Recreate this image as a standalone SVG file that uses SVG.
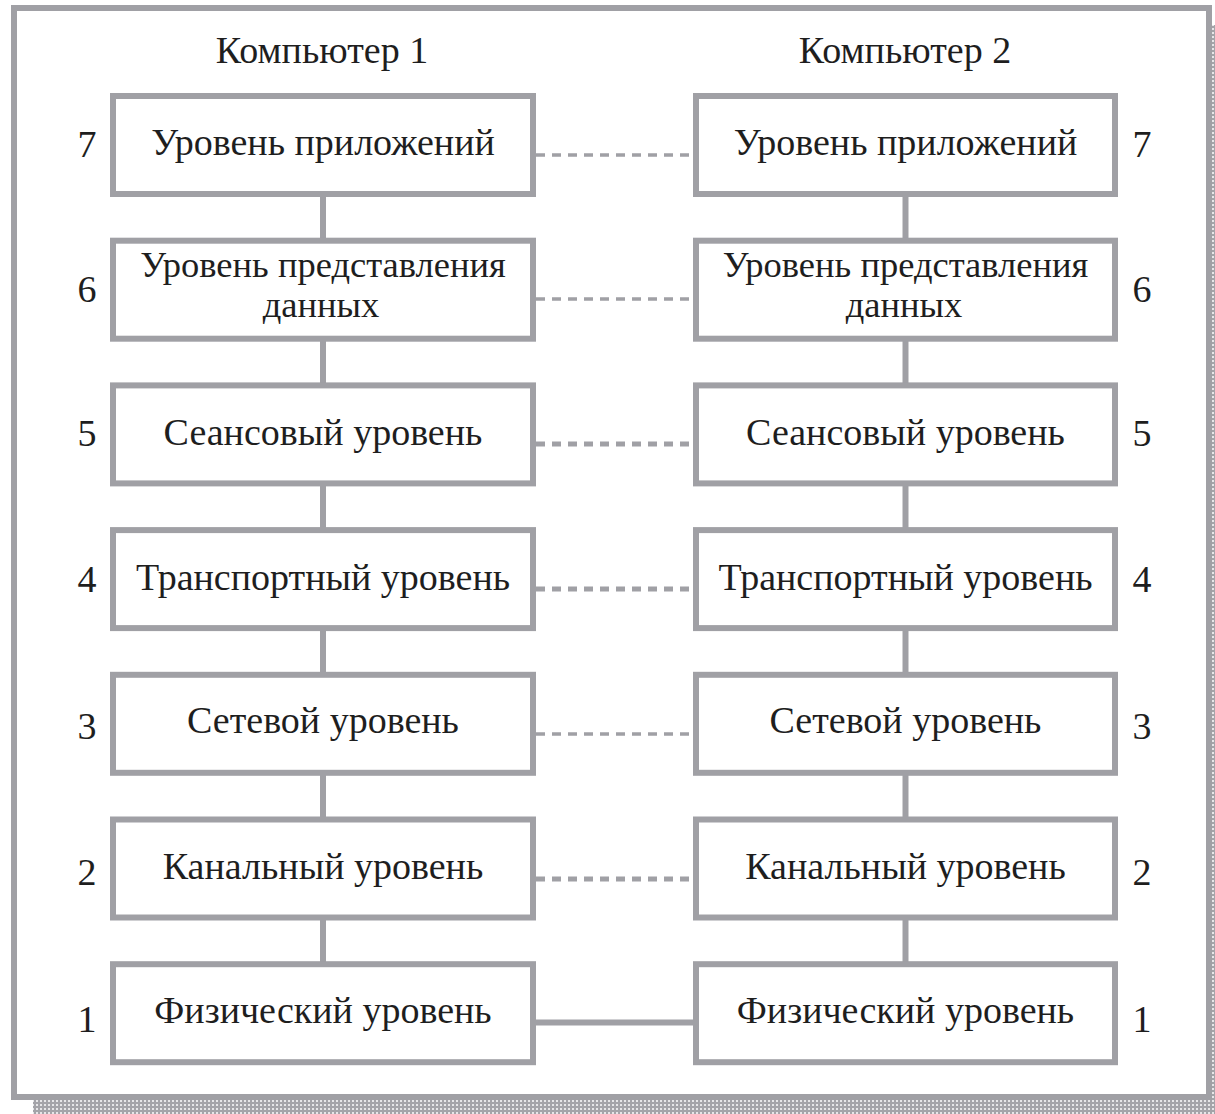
<svg xmlns="http://www.w3.org/2000/svg" width="1215" height="1114" viewBox="0 0 1215 1114">
<defs>
<pattern id="dots" width="4" height="4" patternUnits="userSpaceOnUse">
<rect width="4" height="4" fill="#a4a4a9"/>
<rect x="0" y="0" width="2" height="2" fill="#e6e6e8"/>
</pattern>
<style>
.frame{fill:#fff;stroke:#a0a0a5;stroke-width:6}
.box{fill:#fff;stroke:#a0a0a5;stroke-width:6}
.t{font-family:"Liberation Serif","Times New Roman",serif;font-size:38px;fill:#1e1e1e;text-anchor:middle}
.t2{font-size:36.5px}
.vline{stroke:#a0a0a5;stroke-width:6}
.dash{stroke:#a0a0a5;stroke-dasharray:9 7;fill:none}
.thin{stroke-width:3.5}
.thick{stroke-width:5}
.solid{stroke:#a0a0a5;stroke-width:6}
</style>
</defs>
<rect x="33" y="1100" width="1182" height="14" fill="url(#dots)"/>
<rect x="1212" y="25" width="3" height="1089" fill="url(#dots)"/>
<rect class="frame" x="14" y="8" width="1195" height="1089"/>
<text class="t" x="322" y="63">Компьютер 1</text>
<text class="t" x="905" y="63">Компьютер 2</text>
<g id="connectors">
<line class="vline" x1="323" y1="196" x2="323" y2="240"/>
<line class="vline" x1="323" y1="341" x2="323" y2="385"/>
<line class="vline" x1="323" y1="486" x2="323" y2="530"/>
<line class="vline" x1="323" y1="630" x2="323" y2="674"/>
<line class="vline" x1="323" y1="775" x2="323" y2="819"/>
<line class="vline" x1="323" y1="920" x2="323" y2="964"/>
<line class="vline" x1="905.5" y1="196" x2="905.5" y2="240"/>
<line class="vline" x1="905.5" y1="341" x2="905.5" y2="385"/>
<line class="vline" x1="905.5" y1="486" x2="905.5" y2="530"/>
<line class="vline" x1="905.5" y1="630" x2="905.5" y2="674"/>
<line class="vline" x1="905.5" y1="775" x2="905.5" y2="819"/>
<line class="vline" x1="905.5" y1="920" x2="905.5" y2="964"/>
<line class="dash thin" x1="536" y1="155" x2="693" y2="155"/>
<line class="dash thin" x1="536" y1="299" x2="693" y2="299"/>
<line class="dash thick" x1="536" y1="444" x2="693" y2="444"/>
<line class="dash thick" x1="536" y1="589" x2="693" y2="589"/>
<line class="dash thin" x1="536" y1="734" x2="693" y2="734"/>
<line class="dash thick" x1="536" y1="879" x2="693" y2="879"/>
<line class="solid" x1="536" y1="1022.5" x2="693" y2="1022.5"/>
</g>
<g id="L7"><rect class="box" x="113" y="96" width="420" height="98"/><text class="t" x="323" y="155">Уровень приложений</text></g>
<g id="L6"><rect class="box" x="113" y="240.7" width="420" height="98"/><text class="t t2" x="323" y="277">Уровень представления</text><text class="t t2" x="321" y="317">данных</text></g>
<g id="L5"><rect class="box" x="113" y="385.4" width="420" height="98"/><text class="t" x="323" y="445">Сеансовый уровень</text></g>
<g id="L4"><rect class="box" x="113" y="530.1" width="420" height="98"/><text class="t" x="323" y="590">Транспортный уровень</text></g>
<g id="L3"><rect class="box" x="113" y="674.8" width="420" height="98"/><text class="t" x="323" y="733">Сетевой уровень</text></g>
<g id="L2"><rect class="box" x="113" y="819.5" width="420" height="98"/><text class="t" x="323" y="879">Канальный уровень</text></g>
<g id="L1"><rect class="box" x="113" y="964.2" width="420" height="98"/><text class="t" x="323" y="1023">Физический уровень</text></g>
<g id="R7"><rect class="box" x="696" y="96" width="419" height="98"/><text class="t" x="905.5" y="155">Уровень приложений</text></g>
<g id="R6"><rect class="box" x="696" y="240.7" width="419" height="98"/><text class="t t2" x="905.5" y="277">Уровень представления</text><text class="t t2" x="904" y="317">данных</text></g>
<g id="R5"><rect class="box" x="696" y="385.4" width="419" height="98"/><text class="t" x="905.5" y="445">Сеансовый уровень</text></g>
<g id="R4"><rect class="box" x="696" y="530.1" width="419" height="98"/><text class="t" x="905.5" y="590">Транспортный уровень</text></g>
<g id="R3"><rect class="box" x="696" y="674.8" width="419" height="98"/><text class="t" x="905.5" y="733">Сетевой уровень</text></g>
<g id="R2"><rect class="box" x="696" y="819.5" width="419" height="98"/><text class="t" x="905.5" y="879">Канальный уровень</text></g>
<g id="R1"><rect class="box" x="696" y="964.2" width="419" height="98"/><text class="t" x="905.5" y="1023">Физический уровень</text></g>
<g id="numbers">
<text class="t" x="87" y="157">7</text>
<text class="t" x="87" y="302">6</text>
<text class="t" x="87" y="446">5</text>
<text class="t" x="87" y="592">4</text>
<text class="t" x="87" y="739">3</text>
<text class="t" x="87" y="885">2</text>
<text class="t" x="87" y="1032">1</text>
<text class="t" x="1142" y="157">7</text>
<text class="t" x="1142" y="302">6</text>
<text class="t" x="1142" y="446">5</text>
<text class="t" x="1142" y="592">4</text>
<text class="t" x="1142" y="739">3</text>
<text class="t" x="1142" y="885">2</text>
<text class="t" x="1142" y="1032">1</text>
</g>
</svg>
